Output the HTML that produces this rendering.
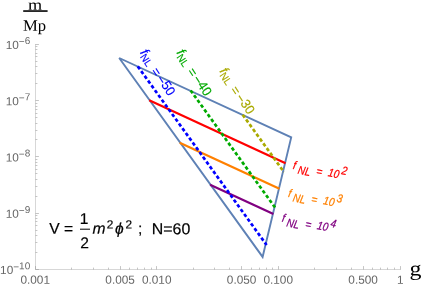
<!DOCTYPE html><html><head><meta charset="utf-8"><title>plot</title>
<style>html,body{margin:0;padding:0;background:#fff}svg{display:block;will-change:transform}text{font-family:"Liberation Sans",sans-serif}.s{font-family:"Liberation Serif",serif}</style></head><body>
<svg width="421" height="290" viewBox="0 0 421 290">
<rect width="421" height="290" fill="#fff"/>
<g stroke="#8a8a8a" stroke-width="0.5" fill="none">
<path d="M35.5 44V269.5H400.8" stroke-width="0.35"/>
<path d="M35.5 269.5v-3.4M71.5 269.5v-1.9M93.5 269.5v-1.9M108.5 269.5v-1.9M120.5 269.5v-3.4M129.5 269.5v-1.9M137.5 269.5v-1.9M144.5 269.5v-1.9M151.5 269.5v-1.9M156.5 269.5v-3.4M193.5 269.5v-1.9M214.5 269.5v-1.9M229.5 269.5v-1.9M241.5 269.5v-3.4M251.5 269.5v-1.9M259.5 269.5v-1.9M266.5 269.5v-1.9M272.5 269.5v-1.9M278.5 269.5v-3.4M314.5 269.5v-1.9M336.5 269.5v-1.9M351.5 269.5v-1.9M363.5 269.5v-3.4M372.5 269.5v-1.9M380.5 269.5v-1.9M387.5 269.5v-1.9M394.5 269.5v-1.9M400.5 269.5v-3.4"/>
<path d="M35.5 269.5h3.4M35.5 252.5h1.9M35.5 242.5h1.9M35.5 235.5h1.9M35.5 230.5h1.9M35.5 225.5h1.9M35.5 221.5h1.9M35.5 218.5h1.9M35.5 215.5h1.9M35.5 213.5h3.4M35.5 196.5h1.9M35.5 186.5h1.9M35.5 179.5h1.9M35.5 173.5h1.9M35.5 169.5h1.9M35.5 165.5h1.9M35.5 162.5h1.9M35.5 159.5h1.9M35.5 156.5h3.4M35.5 139.5h1.9M35.5 130.5h1.9M35.5 123.5h1.9M35.5 117.5h1.9M35.5 113.5h1.9M35.5 109.5h1.9M35.5 106.5h1.9M35.5 103.5h1.9M35.5 100.5h3.4M35.5 83.5h1.9M35.5 73.5h1.9M35.5 66.5h1.9M35.5 61.5h1.9M35.5 56.5h1.9M35.5 53.5h1.9M35.5 49.5h1.9M35.5 46.5h1.9M35.5 44.5h3.4"/>
</g>
<g fill="#666" font-size="11.8" text-anchor="middle">
<text transform="translate(35.20 283.7) rotate(0.03)">0.001</text>
<text transform="translate(120.12 283.7) rotate(0.03)">0.005</text>
<text transform="translate(156.70 283.7) rotate(0.03)">0.010</text>
<text transform="translate(241.62 283.7) rotate(0.03)">0.050</text>
<text transform="translate(278.20 283.7) rotate(0.03)">0.100</text>
<text transform="translate(363.12 283.7) rotate(0.03)">0.500</text>
<text transform="translate(400.30 283.7) rotate(0.03)">1</text>
</g>
<g fill="#666" font-size="11.8" text-anchor="end">
<text transform="translate(30.2 48.90) rotate(0.03)">10<tspan font-size="10" dy="-3.9">−</tspan><tspan font-size="10" dy="-1">6</tspan></text>
<text transform="translate(30.2 105.19) rotate(0.03)">10<tspan font-size="10" dy="-3.9">−</tspan><tspan font-size="10" dy="-1">7</tspan></text>
<text transform="translate(30.2 161.48) rotate(0.03)">10<tspan font-size="10" dy="-3.9">−</tspan><tspan font-size="10" dy="-1">8</tspan></text>
<text transform="translate(30.2 217.77) rotate(0.03)">10<tspan font-size="10" dy="-3.9">−</tspan><tspan font-size="10" dy="-1">9</tspan></text>
<text transform="translate(30.2 274.06) rotate(0.03)">10<tspan font-size="10" dy="-3.9">−</tspan><tspan font-size="10" dy="-1">10</tspan></text>
</g>
<text class="s" transform="translate(35.0 9.8) rotate(0.03) scale(1.18 1)" font-size="15.4" text-anchor="middle" fill="#000">m</text>
<path d="M23.2 11.05H47.6" stroke="#000" stroke-width="1.6"/>
<text class="s" transform="translate(34.5 30.8) rotate(0.03) scale(1.04 1)" font-size="16" text-anchor="middle" fill="#000">Mp</text>
<text class="s" transform="translate(409.6 275.5) rotate(0.03) scale(1.14 1)" font-size="21" fill="#000">g</text>
<path d="M119.2 58.0L291.2 137.4L262.6 256.9Z" fill="none" stroke="#5E81B5" stroke-width="1.9" stroke-linejoin="miter" stroke-miterlimit="2.5"/>
<path d="M149.20 100.35L285.54 163.35" stroke="#FF0000" stroke-width="2.2" fill="none"/>
<path d="M179.70 142.65L279.46 188.75" stroke="#FF8000" stroke-width="2.2" fill="none"/>
<path d="M210.10 184.82L273.41 214.07" stroke="#800080" stroke-width="2.2" fill="none"/>
<path d="M137.77 66.36L266.60 245.06" stroke="#0000FF" stroke-width="2.7" stroke-dasharray="3.5 2.37" fill="none"/>
<path d="M190.62 90.46L275.44 208.12" stroke="#00AA00" stroke-width="2.7" stroke-dasharray="3.5 2.37" fill="none"/>
<path d="M242.71 114.80L284.05 172.15" stroke="#AAAA00" stroke-width="2.7" stroke-dasharray="3.5 2.37" fill="none"/>
<text transform="translate(168.4 96.7) rotate(57) scale(0.955 1)" font-size="13.4" text-anchor="end" fill="#0000FF" stroke="#0000FF" stroke-width="0.15"><tspan font-style="italic">f</tspan><tspan font-size="10.4" dy="2.2">NL</tspan><tspan dy="-1" dx="1.6"> =</tspan><tspan dx="-1.6"> −</tspan><tspan dy="-1.2">50</tspan></text>
<text transform="translate(204.8 96.9) rotate(57) scale(0.955 1)" font-size="13.4" text-anchor="end" fill="#00AA00" stroke="#00AA00" stroke-width="0.15"><tspan font-style="italic">f</tspan><tspan font-size="10.4" dy="2.2">NL</tspan><tspan dy="-1" dx="1.6"> =</tspan><tspan dx="-1.6"> −</tspan><tspan dy="-1.2">40</tspan></text>
<text transform="translate(247.8 115.2) rotate(57) scale(0.955 1)" font-size="13.4" text-anchor="end" fill="#AAAA00" stroke="#AAAA00" stroke-width="0.15"><tspan font-style="italic">f</tspan><tspan font-size="10.4" dy="2.2">NL</tspan><tspan dy="-1" dx="1.6"> =</tspan><tspan dx="-1.6"> −</tspan><tspan dy="-1.2">30</tspan></text>
<text transform="translate(292.6 168.8) rotate(11.8) scale(0.86 1)" font-style="italic" font-size="11.6" fill="#FF0000" stroke="#FF0000" stroke-width="0.25"><tspan x="0" y="0">f</tspan><tspan x="6.3" y="3.6">NL</tspan><tspan x="27.8" y="1.2">=</tspan><tspan x="41.6" y="0">10</tspan><tspan x="56.4" y="-4.9">2</tspan></text>
<text transform="translate(287.7 196.7) rotate(11.8) scale(0.86 1)" font-style="italic" font-size="11.6" fill="#FF8000" stroke="#FF8000" stroke-width="0.25"><tspan x="0" y="0">f</tspan><tspan x="6.3" y="3.6">NL</tspan><tspan x="27.8" y="1.2">=</tspan><tspan x="41.6" y="0">10</tspan><tspan x="56.4" y="-4.9">3</tspan></text>
<text transform="translate(281.5 221.6) rotate(11.8) scale(0.86 1)" font-style="italic" font-size="11.6" fill="#800080" stroke="#800080" stroke-width="0.25"><tspan x="0" y="0">f</tspan><tspan x="6.3" y="3.6">NL</tspan><tspan x="27.8" y="1.2">=</tspan><tspan x="41.6" y="0">10</tspan><tspan x="56.4" y="-4.9">4</tspan></text>
<g fill="#000" font-size="15.6" stroke="#000" stroke-width="0.2">
<text transform="translate(49.3 233.8) rotate(0.03)">V =</text>
<text transform="translate(84.2 223.9) rotate(0.03)" text-anchor="middle">1</text>
<path d="M80 229.2H90" stroke="#000" stroke-width="1"/>
<text transform="translate(84.6 248.2) rotate(0.03)" text-anchor="middle">2</text>
<text transform="translate(92.5 233.8) rotate(0.03)" font-style="italic">m</text>
<text transform="translate(106.7 228.4) rotate(0.03)" font-size="11.8">2</text>
<text transform="translate(115.1 233.8) rotate(0.03)" font-style="italic">ϕ</text>
<text transform="translate(125.5 228.4) rotate(0.03)" font-size="11.8">2</text>
<text transform="translate(138.0 233.8) rotate(0.03)">;</text>
<text transform="translate(151.8 234.2) rotate(0.03)" font-size="15.9">N=60</text>
</g>
</svg></body></html>
